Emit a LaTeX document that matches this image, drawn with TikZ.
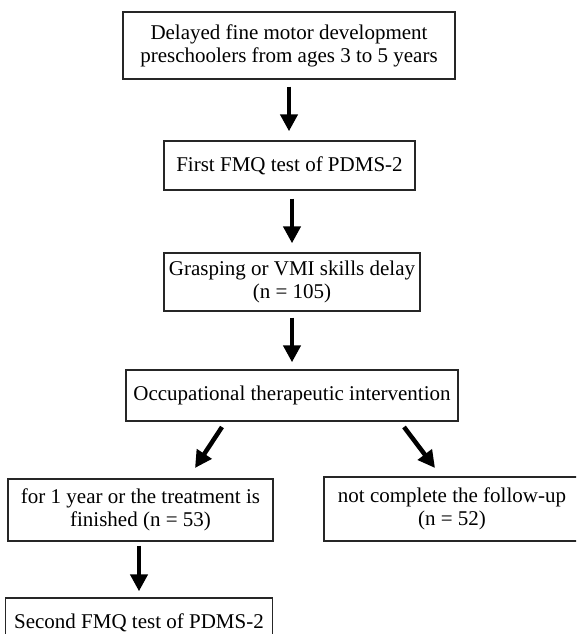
\documentclass[tikz,border=0pt]{standalone}
\usepackage{fontspec}
\setmainfont{Liberation Serif}
\usetikzlibrary{arrows.meta}
\begin{document}
\begin{tikzpicture}[x=1pt,y=-1pt,
  box/.style={draw=black!85,line width=1.4pt,rectangle,align=center,inner sep=0pt,
    font=\fontsize{21}{23}\selectfont},
  arr/.style={line width=4.5pt,-{Triangle[length=17pt,width=17pt]}}]
\useasboundingbox (0,0) rectangle (576,634);
\clip (0,0) rectangle (576,634);
\node[box,minimum width=332pt,minimum height=67pt] (b1) at (289,45.5)
  {Delayed fine motor development\\preschoolers from ages 3 to 5 years};
\node[box,minimum width=251pt,minimum height=49pt] (b2) at (289.5,165.5)
  {First FMQ test of PDMS-2};
\node[box,minimum width=256pt,minimum height=58pt] (b3) at (292,282)
  {Grasping or VMI skills delay\\(n = 105)};
\node[box,minimum width=332pt,minimum height=51pt] (b4) at (292,395.5)
  {Occupational therapeutic intervention};
\node[box,minimum width=265pt,minimum height=62pt] (b5) at (140.5,510)
  {for 1 year or the treatment is\\finished (n = 53)};
\node[box,minimum width=256pt,minimum height=64pt] (b6) at (452,509)
  {not complete the follow-up\\(n = 52)};
\node[box,minimum width=267pt,minimum height=50pt] (b7) at (139,623)
  {Second FMQ test of PDMS-2};
\coordinate (l1) at (222,427);
\coordinate (l2) at (195,468);
\coordinate (r1) at (404,427);
\coordinate (r2) at (435,468);
\draw[arr,shorten <=7pt,shorten >=9pt] (b1.south) -- (b1.south |- b2.north);
\draw[arr,shorten <=8pt,shorten >=9pt] (b2.south -| b3.north) -- (b3.north);
\draw[arr,shorten <=6pt,shorten >=7pt] (b3.south) -- (b4.north);
\draw[arr] (l1) -- (l2);
\draw[arr] (r1) -- (r2);
\draw[arr,shorten <=4pt,shorten >=6pt] (b5.south -| b7.north) -- (b7.north);
\end{tikzpicture}
\end{document}
